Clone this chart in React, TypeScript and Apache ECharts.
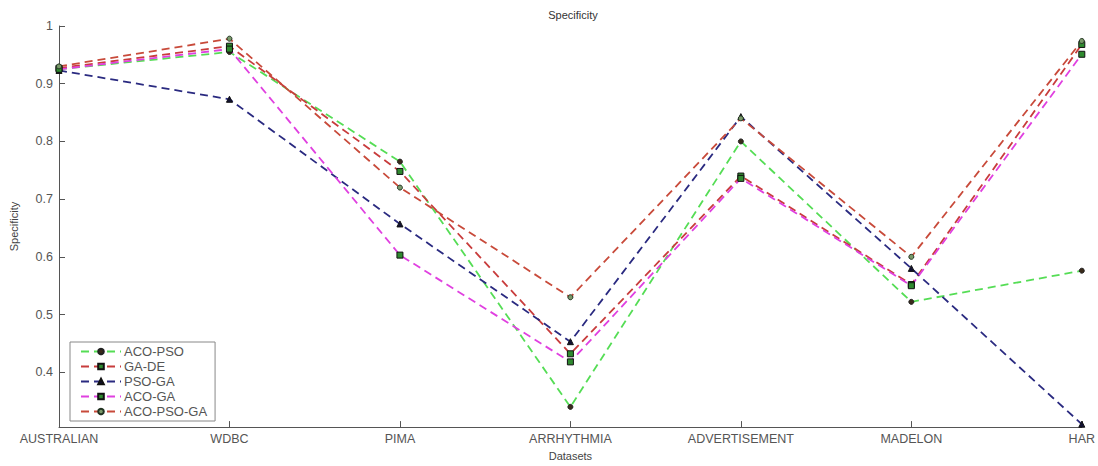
import React, { useEffect, useRef } from "react";
import * as echarts from "echarts";

const categories = ["AUSTRALIAN", "WDBC", "PIMA", "ARRHYTHMIA", "ADVERTISEMENT", "MADELON", "HAR"];
const acoPso = [0.925, 0.955, 0.765, 0.34, 0.8, 0.522, 0.576];
const gaDe = [0.927, 0.965, 0.748, 0.432, 0.74, 0.552, 0.968];
const psoGa = [0.923, 0.873, 0.657, 0.453, 0.843, 0.58, 0.31];
const acoGa = [0.925, 0.96, 0.603, 0.418, 0.736, 0.55, 0.951];
const acoPsoGa = [0.93, 0.978, 0.72, 0.53, 0.84, 0.6, 0.974];
const yTicks = [0.4, 0.5, 0.6, 0.7, 0.8, 0.9, 1];

const FONT = "Liberation Sans, Arial, sans-serif";

export default function App() {
  const ref = useRef<HTMLDivElement>(null);
  useEffect(() => {
    if (!ref.current) return;
    const chart = echarts.init(ref.current, undefined, { renderer: "svg" });
    const mk = (name: string, data: number[], color: string, symbol: string, mColor: string, mBorder: string, size: number) => ({
      name,
      type: "line",
      data,
      symbol,
      symbolSize: size,
      showSymbol: true,
      lineStyle: { color, width: 1.8, type: [8, 5] },
      itemStyle: { color: mColor, borderColor: mBorder, borderWidth: 1 },
      emphasis: { disabled: true },
      z: 2,
    });
    chart.setOption({
      animation: false,
      backgroundColor: "#ffffff",
      title: {
        text: "Specificity",
        left: 568,
        top: 4,
        textAlign: "center",
        textStyle: { fontFamily: FONT, fontSize: 11, fontWeight: "normal", color: "#333" },
      },
      legend: {
        orient: "vertical",
        left: 70,
        top: 342,
        padding: [2, 8, 2, 10],
        itemGap: 0,
        itemWidth: 40,
        itemHeight: 7,
        borderColor: "#888",
        borderWidth: 1,
        backgroundColor: "#fff",
        textStyle: { fontFamily: FONT, fontSize: 13, lineHeight: 15, color: "#555", padding: [0, 0, 0, -2] },
        data: ["ACO-PSO", "GA-DE", "PSO-GA", "ACO-GA", "ACO-PSO-GA"],
      },
      grid: { left: 57, right: 15, top: 26, bottom: 30, containLabel: false },
      xAxis: {
        type: "category",
        data: categories,
        boundaryGap: false,
        name: "Datasets",
        nameLocation: "middle",
        nameGap: 21,
        nameTextStyle: { fontFamily: FONT, fontSize: 11, color: "#444" },
        axisLine: { lineStyle: { color: "#555", width: 1 } },
        axisTick: { inside: true, length: 6, lineStyle: { color: "#555" }, alignWithLabel: true },
        axisLabel: { fontFamily: FONT, fontSize: 12.5, color: "#555", margin: 5 },
        splitLine: { show: false },
      },
      yAxis: {
        type: "value",
        min: 0.305,
        max: 1,
        name: "Specificity",
        nameLocation: "middle",
        nameGap: 40,
        nameRotate: 90,
        nameTextStyle: { fontFamily: FONT, fontSize: 11, color: "#444" },
        axisLine: { show: true, lineStyle: { color: "#555", width: 1 } },
        axisTick: { show: true, inside: true, length: 6, lineStyle: { color: "#555" }, customValues: yTicks },
        axisLabel: { fontFamily: FONT, fontSize: 12.5, color: "#555", margin: 6, customValues: yTicks },
        splitLine: { show: false },
      },
      series: [
        mk("ACO-PSO", acoPso, "#55dd55", "circle", "#3a2a1a", "#222", 5),
        mk("GA-DE", gaDe, "#c83c3c", "rect", "#2f8a2f", "#111", 6),
        mk("PSO-GA", psoGa, "#2a2a80", "triangle", "#111133", "#111", 6),
        mk("ACO-GA", acoGa, "#e040e0", "rect", "#2f8a2f", "#111", 6),
        mk("ACO-PSO-GA", acoPsoGa, "#c84a3a", "circle", "#7a9a6a", "#223322", 5),
      ],
    });
    return () => chart.dispose();
  }, []);
  return <div ref={ref} style={{ position: "absolute", left: 0, top: 0, width: 1098, height: 466 }} />;
}
